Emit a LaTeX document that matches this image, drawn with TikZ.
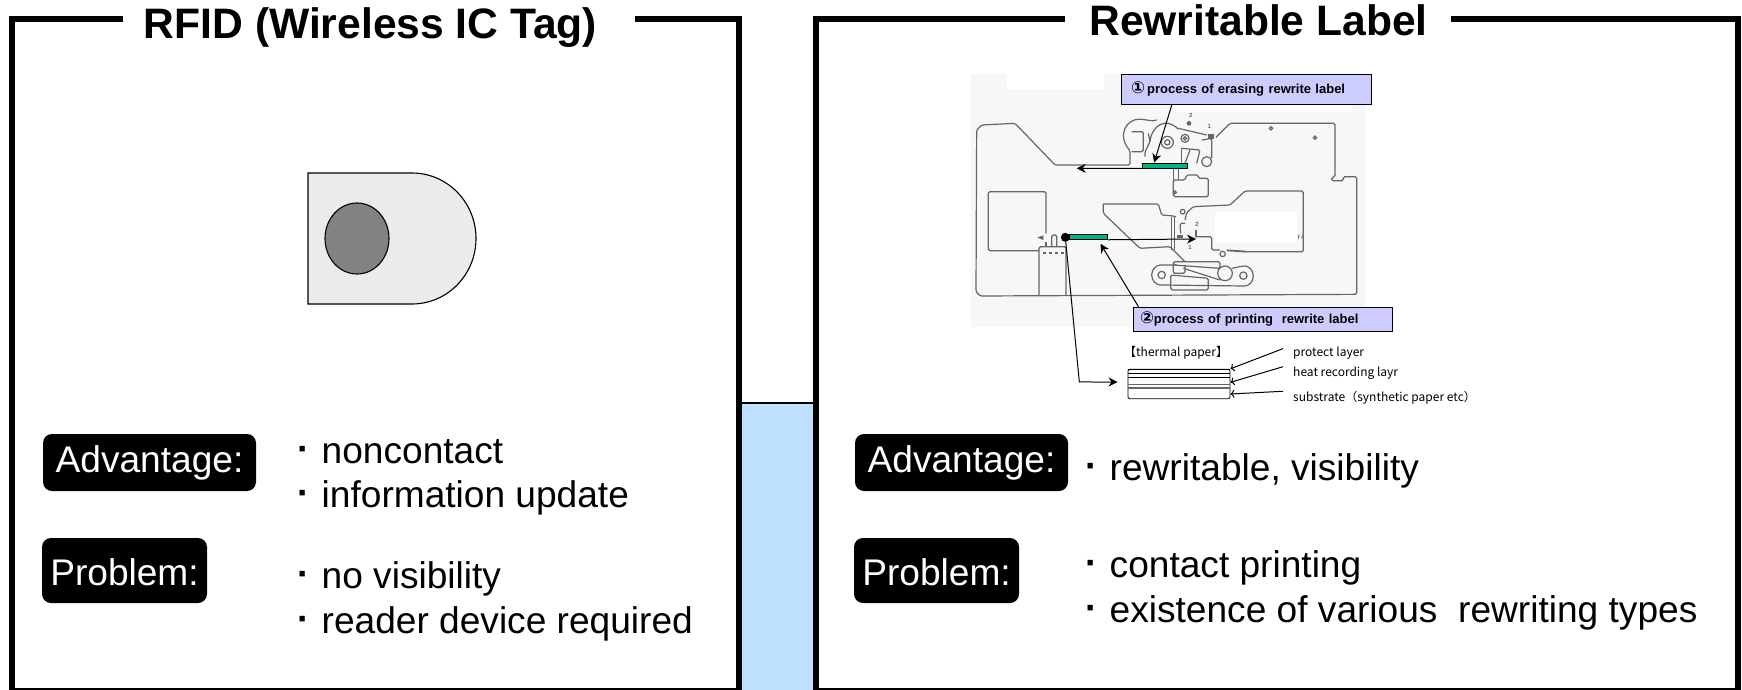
\documentclass[tikz,border=0pt]{standalone}
\usepackage{fontspec}
\setmainfont{Liberation Sans}
\newfontfamily\symfont{DejaVu Sans}
\newfontfamily\jpfont{Noto Sans CJK JP}
\usetikzlibrary{arrows.meta}
\definecolor{stripblue}{HTML}{BFDFFF}
\definecolor{calloutfill}{HTML}{CCCCFF}
\definecolor{barfill}{HTML}{00B386}
\definecolor{photobg}{HTML}{F7F7F7}
\definecolor{mechline}{HTML}{666666}
\newcommand{\bul}{\makebox[23.5pt][l]{\hspace*{-1pt}\raisebox{2pt}{\textbf{·}}}}

\begin{document}
\begin{tikzpicture}[
   x = 1pt, y = -1pt,
    >= {Stealth[length=9pt,width=9pt]},
 frame/.style = {line width=5.5pt},
 title/.style = {anchor=base, inner sep=0pt, font=\fontsize{42.6}{46}\bfseries\selectfont},
tagbox/.style = {fill=black, text=white, inner sep=0pt, rounded corners=9pt,
                 font=\fontsize{37.1}{40}\selectfont},
   adv/.style = {tagbox, minimum width=213pt, minimum height=57pt, text height=27pt, text depth=8pt},
   pro/.style = {tagbox, minimum width=165pt, minimum height=65pt, text height=29pt, text depth=0pt},
  item/.style = {anchor=base west, inner sep=0pt, font=\fontsize{37.1}{40}\selectfont},
 callout/.style = {draw=black, fill=calloutfill, inner ysep=0pt, align=left,
                 font=\fontsize{13}{15}\bfseries\selectfont},
   bar/.style = {draw=black, fill=barfill, inner sep=0pt, line width=.8pt},
  mech/.style = {draw=mechline, line width=1.2pt, rounded corners=1.5pt},
 small/.style = {anchor=base west, inner sep=0pt, font=\jpfont\fontsize{12}{14}\selectfont},
  tiny/.style = {inner sep=0pt, text=mechline, font=\fontsize{6}{7}\bfseries\selectfont},
  link/.style = {line width=1pt}
                        ]
\useasboundingbox (0,0) rectangle (1742,690);
%
\fill[stripblue] (742,403) rectangle (813,692);
\draw[line width=1.6pt] (738,403) -- (816,403);
\draw[frame] (123,19) -| (12,691) -| (739,19) -- (635,19);
\draw[frame] (1065,19) -| (816,691) -| (1738,19) -- (1451,19);
\node (rfid) [title] at (370.5,39) {RFID (Wireless IC Tag)};
\node (rewrite) [title] at (1258.5,36) {Rewritable Label};
% tag
\draw[fill=black!8, line width=1.1pt] (308,173) -- (412,173)
    arc[start angle=-90,end angle=90,x radius=64,y radius=65.5] -- (308,304) -- cycle;
\draw[fill=black!49, line width=1.1pt] (357,238.5) ellipse [x radius=32,y radius=35.5];
% lists
\node (advL) [adv] at (149.5,462.5) {Advantage:};
\node (proL) [pro] at (124.5,570.5) {Problem:};
\node (advR) [adv] at (961.5,462.5) {Advantage:};
\node (proR) [pro] at (936.5,570.5) {Problem:};
\node (itemA) [item] at (298,463) {\bul noncontact};
\node (itemB) [item] at (298,507.5) {\bul information update};
\node (itemC) [item] at (298,588) {\bul no visibility};
\node (itemD) [item] at (298,633) {\bul reader device required};
\node (itemE) [item] at (1086,480) {\bul rewritable, visibility};
\node (itemF) [item] at (1086,577) {\bul contact printing};
\node (itemG) [item] at (1086,622.5) {\bul existence of various\ \ rewriting types};
% machine, in thirds of a pixel
\begin{scope}[shift={(960,60)},x=.33333pt,y=-.33333pt]
\fill[photobg] (33,42) rectangle (1215,800);
\fill[white] (142,42) rectangle (432,88);
\fill[white] (640,131) rectangle (1175,155);
\draw[mech] (510,285) -- (510,315) -- (285,315) -- (165,190) -- (65,195) -- (50,210)
    -- (48,695) -- (60,708) -- (1190,703) -- (1190,350) -- (1150,350) -- (1150,362)
    -- (1115,362) -- (1115,352) -- (1125,350) -- (1125,190) -- (810,190) -- (768,232);
\draw[mech] (258,520) -- (258,395) -- (85,395) -- (85,572) -- (237,572);
\draw[mech] (258,545) -- (258,560);
\draw[mech] (237,708) -- (237,560) -- (318,560) -- (318,708);
\draw[mech] (275,560) -- (275,525) -- (290,525) -- (290,560);
\draw[mech, line width=1.8pt, dashed] (250,578) -- (315,578);
\fill[mechline] (232,533) -- (250,526) -- (250,540) -- cycle;
% upper part
\draw[mech] (510,285) -- (510,272) .. controls (470,225) and (500,175) .. (545,178) .. controls (565,180) and (575,185) .. (590,180);
\draw[mech] (515,215) -- (550,215) -- (550,275) -- (515,275);
\draw[mech] (565,220) -- (570,245) -- (555,275) -- (555,290);
\draw[mech] (570,245) .. controls (575,195) and (620,170) .. (655,208);
\draw[mech] (655,205) -- (740,225);
\draw[mech] (725,240) -- (755,235) -- (755,295);
\draw[mech] (665,265) -- (720,270) -- (710,310);
\draw[mech] (665,265) -- (665,310);
\draw[mech] (690,270) -- (675,310);
\draw[mech] (640,325) -- (640,360);
\draw[mech] (655,325) -- (655,360);
\draw[mech] (640,360) -- (640,410) -- (745,410) -- (745,355) -- (715,355) -- (715,345) -- (680,345) -- (675,360) -- cycle;
\foreach \cx/\cy/\rr in {622/247/18, 622/247/8, 675/235/12, 675/235/5, 740/305/15,
      645/397/4, 933/205/5, 1065/233/5, 668/455/7, 788/582/8, 605/645/11, 850/647/11, 795/640/22}
   \draw[mech] (\cx,\cy) circle[radius=\rr];
\fill[mechline] (743,222) rectangle (762,238);
\fill[mechline] (687,190) circle[radius=7];
% lower part
\draw[mech] (635,470) -- (635,570);
\draw[mech] (643,470) -- (643,570);
\draw[mech] (430,432) -- (595,432) -- (605,465) -- (640,468) -- (648,470);
\draw[mech] (430,432) -- (430,460) -- (540,565) -- (630,560) -- (675,605);
\draw[mech] (675,490) -- (660,490) -- (662,520);
\draw[mech] (675,480) -- (680,458) -- (700,440) -- (810,435) -- (855,393) -- (1030,393)
    -- (1030,575) -- (860,575);
\draw[mech] (705,530) -- (755,530) -- (755,570) -- (780,570);
\draw[mech, line width=1.8pt] (800,571) -- (860,575);
\draw[mech] (650,615) -- (605,615) arc[start angle=-90,end angle=-270,radius=30] -- (850,678)
    arc[start angle=90,end angle=-90,radius=30] -- (815,625);
\draw[mech] (632,690) -- (632,645) -- (745,655) -- (745,690) -- cycle;
\draw[mech] (640,605) -- (780,605) -- (780,625) -- (640,615) -- cycle;
\draw[mech] (640,615) -- (640,640) -- (675,640) -- (675,615);
\draw[mech] (670,625) -- (780,660);
\fill[mechline] (650,525) rectangle (668,535);
\fill[mechline] (705,510) rectangle (712,530);
\fill[white] (765,457) rectangle (1010,548);
\node (numA) [tiny] at (692,166) {2};
\node (numB) [tiny] at (748,200) {1};
\node (numC) [tiny] at (711,492) {2};
\node (numD) [tiny] at (690,562) {1};
\node (numE) [tiny] at (1023,532) {f 4};
% labels and arrows
\node (barA) [bar, minimum width=45pt, minimum height=5.6pt] at (615.5,317.5) {};
\node (barB) [bar, minimum width=38.5pt, minimum height=5.4pt] at (385.5,530) {};
\node (dot) [circle, fill=black, inner sep=0pt, minimum size=9pt] at (316,532) {};
\coordinate (tipA) at (350,325);
\coordinate (tipB) at (708,537);
\coordinate (bend) at (358,966);
\end{scope}
\node (erase) [callout, inner xsep=10pt, text width=230pt, minimum height=30pt] at (1246,89) {{\symfont\fontsize{16.5}{15}\selectfont ①}\,process of erasing rewrite label};
\node (print) [callout, inner xsep=7pt, text width=245pt, minimum height=24pt] at (1262.5,319) {{\symfont\fontsize{16.5}{15}\selectfont ②}process of printing\ \ rewrite label};
\draw[link,->] ([yshift=-2.5pt]barA.west) -- (tipA);
\draw[link,->] (barB.south east) -- (tipB);
\draw[link,->] ([xshift=-74pt]erase.south) -- ([xshift=-11pt]barA.north);
\draw[link,->] ([xshift=-124pt]print.north) -- ([xshift=12pt,yshift=-4pt]barB.south);
% thermal paper
\node (paper) [draw=black, line width=.9pt, rounded corners=1.5pt, inner sep=0pt, minimum width=102pt, minimum height=29.5pt] at (1179,384) {};
\foreach \yy/\ww/\cc in {369.6/1.5/black, 373.5/.8/black, 377.5/.9/black, 384/.9/black!60, 388/1.2/black!60}
   \draw[line width=\ww pt, \cc] (1128,\yy) -- (1230,\yy);
\draw[link,->] (dot) -- (bend) -- ([xshift=-10pt,yshift=2pt]paper.west);
\node (lblT) [small] at (1124,356) {【thermal paper】};
\node (lblA) [small] at (1293,356) {protect layer};
\node (lblB) [small] at (1293,376) {heat recording layr};
\node (lblC) [small] at (1293,401) {substrate（synthetic paper etc）};
\draw[link,-{To}] ([xshift=-10pt,yshift=4pt]lblA.west) -- (paper.north east);
\draw[link,-{To}] ([xshift=-10pt,yshift=6pt]lblB.west) -- ([yshift=1.7pt]paper.east);
\draw[link,-{To}] ([xshift=-10pt,yshift=6pt]lblC.west) -- ([yshift=-10pt]paper.east);
\end{tikzpicture}
\end{document}
